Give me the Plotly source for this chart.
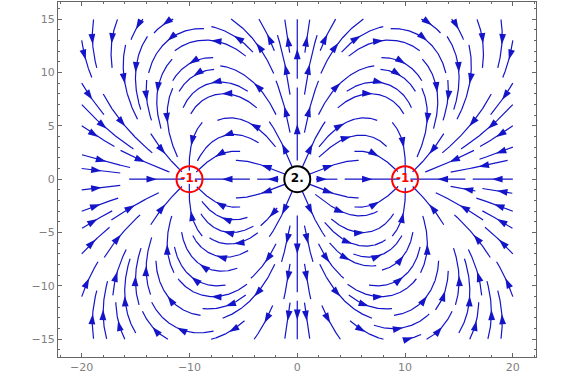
import numpy as np
import plotly.graph_objects as go

# ---- data: point charges of the field ----
charge_x = [-10.0, 0.0, 10.0]
charge_y = [0.0, 0.0, 0.0]
charge_q = [-1.0, 2.0, -1.0]
charge_labels = ["-1.", "2.", "-1."]
charge_colors = ["#ff0000", "#000000", "#ff0000"]

x_ticks = [-20, -10, 0, 10, 20]
y_ticks = [-15, -10, -5, 0, 5, 10, 15]

# plotted region of the stream plot
XMIN, XMAX, YMIN, YMAX = -20.0, 20.0, -15.0, 15.0

LINE_COLOR = "#1414c8"
DTEST = 0.95
HALF_LEN = 3.6
STEP = 0.06


def field(x, y):
    ex = 0.0
    ey = 0.0
    for cx, cy, q in zip(charge_x, charge_y, charge_q):
        dx = x - cx
        dy = y - cy
        r3 = (dx * dx + dy * dy) ** 1.5 + 1e-12
        ex += q * dx / r3
        ey += q * dy / r3
    return ex, ey


def direction(x, y):
    ex, ey = field(x, y)
    n = np.hypot(ex, ey) + 1e-15
    return ex / n, ey / n


occ = {}


def cell(x, y):
    return (int(np.floor(x / DTEST)), int(np.floor(y / DTEST)))


def too_close(x, y, d):
    ci, cj = cell(x, y)
    for i in range(ci - 1, ci + 2):
        for j in range(cj - 1, cj + 2):
            for (px, py) in occ.get((i, j), []):
                if (px - x) ** 2 + (py - y) ** 2 < d * d:
                    return True
    return False


def near_charge(x, y):
    for cx, cy, q in zip(charge_x, charge_y, charge_q):
        r = 1.15 if q > 0 else 0.5
        if (x - cx) ** 2 + (y - cy) ** 2 < r * r:
            return True
    return False


def integrate(x0, y0, sgn):
    pts = []
    x, y = x0, y0
    length = 0.0
    while length < HALF_LEN:
        dx, dy = direction(x, y)
        mx, my = x + sgn * dx * STEP / 2, y + sgn * dy * STEP / 2
        dx, dy = direction(mx, my)
        nx, ny = x + sgn * dx * STEP, y + sgn * dy * STEP
        if nx < XMIN or nx > XMAX or ny < YMIN or ny > YMAX:
            break
        if near_charge(nx, ny):
            pts.append((nx, ny))
            break
        if too_close(nx, ny, DTEST * 0.7):
            break
        pts.append((nx, ny))
        x, y = nx, ny
        length += STEP
    return pts


lines = []
seeds = []
# seeds on rings around each charge first, then a grid
for cx, cy, q in zip(charge_x, charge_y, charge_q):
    rr = 2.4 if q > 0 else 2.0
    for a in np.arange(0, 360, 45):
        t = np.radians(a + (22.5 if q > 0 else 0))
        seeds.append((cx + rr * np.cos(t), cy + rr * np.sin(t)))
for sp, off in [(4.0, 0.0), (2.0, 1.0), (2.0, 0.0)]:
    for yy in np.arange(YMIN + off, YMAX + 1e-9, sp):
        for xx in np.arange(XMIN + off, XMAX + 1e-9, sp):
            seeds.append((float(xx), float(yy)))

for sx, sy in seeds:
    if near_charge(sx, sy) or too_close(sx, sy, DTEST):
        continue
    back = integrate(sx, sy, -1)
    fwd = integrate(sx, sy, 1)
    pts = back[::-1] + [(sx, sy)] + fwd
    if len(pts) < int(1.6 / STEP):
        continue
    for (px, py) in pts:
        occ.setdefault(cell(px, py), []).append((px, py))
    lines.append(pts)

lx, ly = [], []
ax_, ay_, aang = [], [], []
for pts in lines:
    arr = np.array(pts)
    lx.extend(arr[:, 0].tolist() + [None])
    ly.extend(arr[:, 1].tolist() + [None])
    seg = np.hypot(np.diff(arr[:, 0]), np.diff(arr[:, 1]))
    cum = np.concatenate([[0], np.cumsum(seg)])
    k = int(np.searchsorted(cum, cum[-1] / 2))
    k = min(max(k, 0), len(arr) - 1)
    mx, my = arr[k]
    dx, dy = direction(mx, my)
    ax_.append(mx)
    ay_.append(my)
    aang.append(float(np.degrees(np.arctan2(dx, dy))))

fig = go.Figure()
fig.add_trace(go.Scatter(x=lx, y=ly, mode="lines",
                         line=dict(color=LINE_COLOR, width=1.2),
                         hoverinfo="skip", showlegend=False))
fig.add_trace(go.Scatter(x=ax_, y=ay_, mode="markers",
                         marker=dict(symbol="arrow", size=11, angle=aang,
                                     color=LINE_COLOR, line=dict(width=0)),
                         hoverinfo="skip", showlegend=False))
fig.add_trace(go.Scatter(x=charge_x, y=charge_y, mode="markers+text",
                         text=["<b>%s</b>" % t for t in charge_labels],
                         textposition="middle center",
                         textfont=dict(color=charge_colors, size=12,
                                       family="DejaVu Sans"),
                         marker=dict(symbol="circle-open", size=26,
                                     color=charge_colors,
                                     line=dict(width=2, color=charge_colors)),
                         hoverinfo="skip", showlegend=False))

axis_common = dict(showgrid=False, zeroline=False, showline=True,
                   linecolor="#666666", linewidth=1, mirror="allticks",
                   ticks="inside", ticklen=4, tickcolor="#666666",
                   tickfont=dict(family="DejaVu Sans", size=11, color="#808080"))
fig.update_xaxes(range=[-22.2, 22.15], tickvals=x_ticks,
                 minor=dict(dtick=2, ticks="inside", ticklen=2, tickcolor="#666666"),
                 **axis_common)
fig.update_yaxes(range=[-16.66, 16.6], tickvals=y_ticks,
                 minor=dict(dtick=1, ticks="inside", ticklen=2, tickcolor="#666666"),
                 **axis_common)
fig.update_layout(width=575, height=375,
                  margin=dict(l=58, r=39, t=1, b=16),
                  plot_bgcolor="white", paper_bgcolor="white")
fig.write_html("out.html")
